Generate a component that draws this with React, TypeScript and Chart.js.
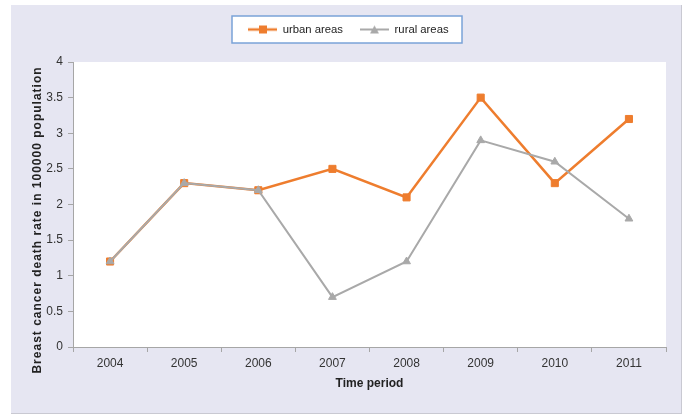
import { useEffect, useRef } from 'react';
import { Chart, registerables } from 'chart.js';

Chart.register(...registerables);

const years = ['2004', '2005', '2006', '2007', '2008', '2009', '2010', '2011'];
const urbanAreas = [1.2, 2.3, 2.2, 2.5, 2.1, 3.5, 2.3, 3.2];
const ruralAreas = [1.2, 2.3, 2.2, 0.7, 1.2, 2.9, 2.6, 1.8];

const ORANGE = '#ee7d2e';
const GRAY = '#a9a9a9';
const AXIS = '#a6a6a6';
const FONT = "'Liberation Sans', Arial, sans-serif";

// small line+marker swatch for the legend (Excel style)
function makeSwatch(color: string, marker: 'rect' | 'triangle', lineWidth: number) {
  const c = document.createElement('canvas');
  c.width = 29;
  c.height = 10;
  const ctx = c.getContext('2d')!;
  ctx.strokeStyle = color;
  ctx.fillStyle = color;
  ctx.lineWidth = lineWidth;
  ctx.beginPath();
  ctx.moveTo(0, 5);
  ctx.lineTo(29, 5);
  ctx.stroke();
  ctx.beginPath();
  if (marker === 'rect') {
    ctx.rect(11, 1, 8, 8);
  } else {
    ctx.moveTo(14.5, 1);
    ctx.lineTo(19, 9);
    ctx.lineTo(10, 9);
    ctx.closePath();
  }
  ctx.fill();
  return c;
}

const backgroundPlugin = {
  id: 'areas',
  beforeLayout(chart: any) {
    const legend = chart.legend;
    if (legend && !legend._patched) {
      const fit = legend.fit;
      legend.fit = function () {
        fit.call(this);
        this.height = 57;
      };
      legend._patched = true;
    }
  },
  afterUpdate(chart: any) {
    // move the legend row to where the reference has it
    const legend = chart.legend;
    const boxes = legend?.legendHitBoxes;
    if (!boxes || !boxes.length) return;
    const dx = 237 - boxes[0].left;
    const dy = 24.5 - (boxes[0].top + boxes[0].height / 2);
    legend.left += dx;
    legend.right += dx;
    legend.top += dy;
    legend.bottom += dy;
    boxes.forEach((b: any) => {
      b.left += dx;
      b.top += dy;
    });
  },
  beforeDraw(chart: any) {
    const { ctx, chartArea } = chart;
    ctx.save();
    ctx.fillStyle = '#ffffff';
    ctx.fillRect(chartArea.left, chartArea.top, chartArea.right - chartArea.left, chartArea.bottom - chartArea.top);
    const boxes = chart.legend?.legendHitBoxes;
    if (boxes && boxes.length) {
      const left = 221;
      const right = 451;
      const cy = 24.5;
      ctx.fillStyle = '#ffffff';
      ctx.fillRect(left, cy - 13.5, right - left, 27);
      ctx.strokeStyle = '#7aa3d8';
      ctx.lineWidth = 1.5;
      ctx.strokeRect(left, cy - 13.5, right - left, 27);
    }
    ctx.restore();
  },
};

export default function App() {
  const canvasRef = useRef<HTMLCanvasElement>(null);
  const chartRef = useRef<Chart | null>(null);

  useEffect(() => {
    if (!canvasRef.current) return;
    if (chartRef.current) chartRef.current.destroy();

    const urbanSwatch = makeSwatch(ORANGE, 'rect', 2.5);
    const ruralSwatch = makeSwatch(GRAY, 'triangle', 2);

    chartRef.current = new Chart(canvasRef.current, {
      type: 'line',
      data: {
        labels: years,
        datasets: [
          {
            label: 'urban areas',
            data: urbanAreas,
            borderColor: ORANGE,
            backgroundColor: ORANGE,
            borderWidth: 2.5,
            pointStyle: 'rect',
            pointRadius: 5,
            pointBorderWidth: 1,
            tension: 0,
            order: 1,
          },
          {
            label: 'rural areas',
            data: ruralAreas,
            borderColor: GRAY,
            backgroundColor: GRAY,
            borderWidth: 2,
            pointStyle: 'triangle',
            pointRadius: 4.5,
            pointBorderWidth: 1,
            tension: 0,
            order: 0,
          },
        ],
      },
      options: {
        responsive: false,
        animation: false,
        layout: { padding: { top: 0, right: 15, bottom: 0, left: 0 } },
        plugins: {
          tooltip: { enabled: false },
          legend: {
            position: 'top',
            labels: {
              font: { family: FONT, size: 11.3 },
              color: '#222222',
              usePointStyle: true,
              pointStyleWidth: 29,
              padding: 17,
              sort: (a: any, b: any) => a.datasetIndex - b.datasetIndex,
              generateLabels: (chart: any) => {
                const items = Chart.defaults.plugins.legend.labels.generateLabels(chart);
                return items.map((it: any) => ({
                  ...it,
                  pointStyle: it.datasetIndex === 0 ? urbanSwatch : ruralSwatch,
                }));
              },
            },
          },
        },
        scales: {
          x: {
            type: 'category',
            offset: true,
            afterFit: (scale: any) => {
              scale.height = 66;
            },
            grid: {
              offset: true,
              drawOnChartArea: false,
              drawTicks: true,
              tickLength: 5,
              color: AXIS,
            },
            border: { display: true, color: AXIS, width: 1 },
            ticks: {
              font: { family: FONT, size: 12 },
              color: '#333333',
              padding: 4,
              maxRotation: 0,
            },
            title: {
              display: true,
              text: 'Time period',
              font: { family: FONT, size: 12, weight: 'bold' },
              color: '#222222',
              padding: { top: 0, bottom: 22 },
            },
          },
          y: {
            min: 0,
            max: 4,
            afterFit: (scale: any) => {
              scale.width = 62;
              if (!scale._titleShifted) {
                const drawTitle = scale.drawTitle;
                scale.drawTitle = function () {
                  const ctx = this.ctx;
                  ctx.save();
                  ctx.translate(0, 15.5);
                  (ctx as any).letterSpacing = '1px';
                  drawTitle.call(this);
                  ctx.restore();
                };
                scale._titleShifted = true;
              }
            },
            grid: {
              drawOnChartArea: false,
              drawTicks: true,
              tickLength: 5,
              color: AXIS,
            },
            border: { display: true, color: AXIS, width: 1 },
            ticks: {
              stepSize: 0.5,
              font: { family: FONT, size: 12 },
              color: '#333333',
              padding: 5,
              callback: (value: any) => String(Number(value)),
            },
            title: {
              display: true,
              text: 'Breast cancer death rate in 100000 population',
              font: { family: FONT, size: 12, weight: 'bold' },
              color: '#222222',
              padding: { top: 19, bottom: 0 },
            },
          },
        },
      },
      plugins: [backgroundPlugin],
    });

    return () => {
      if (chartRef.current) {
        chartRef.current.destroy();
        chartRef.current = null;
      }
    };
  }, []);

  return (
    <div
      style={{
        position: 'absolute',
        left: 11,
        top: 5,
        width: 670,
        height: 408,
        background: '#e6e6f2',
        borderRight: '1px solid #c9c9d2',
        borderBottom: '1px solid #c9c9d2',
      }}
    >
      <canvas ref={canvasRef} width={670} height={408} style={{ display: 'block' }}></canvas>
    </div>
  );
}
